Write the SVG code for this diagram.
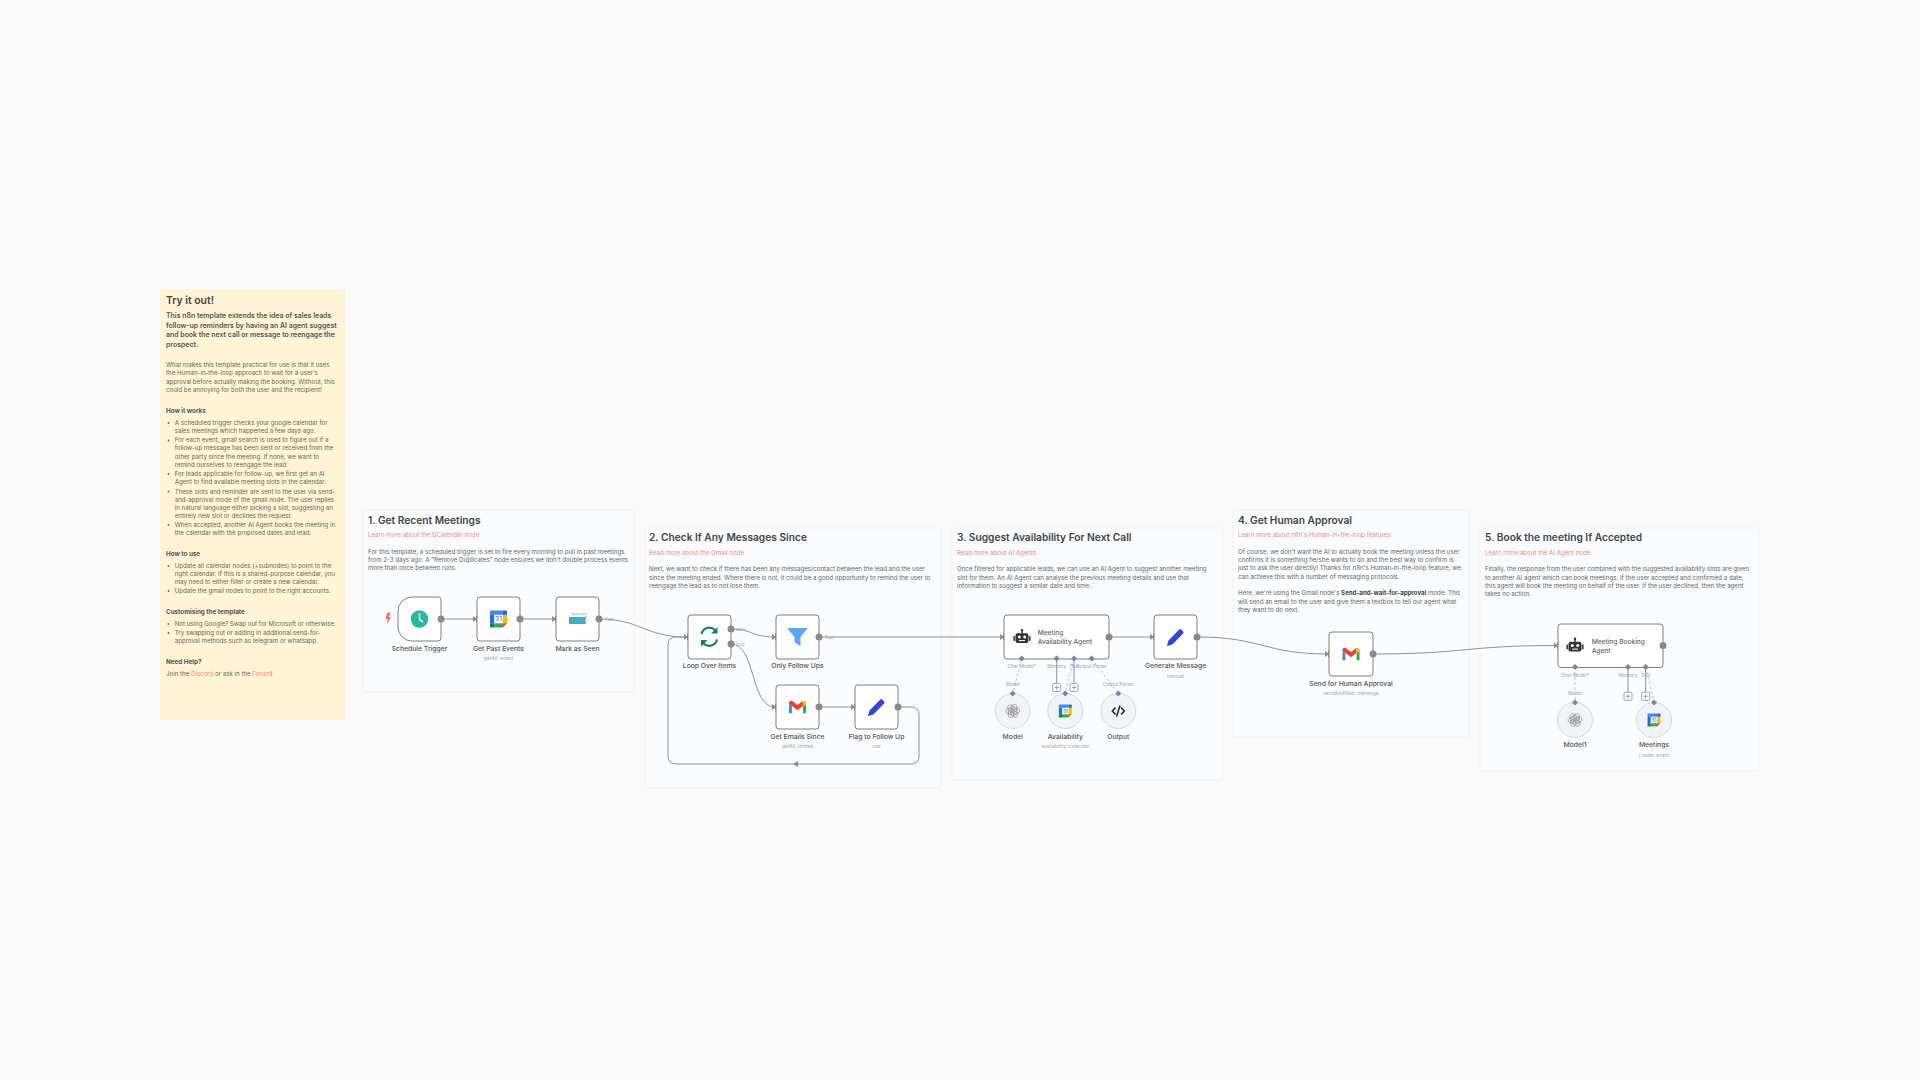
<svg xmlns="http://www.w3.org/2000/svg" width="1920" height="1080" viewBox="0 0 1920 1080">
<style>
text{font-family:Inter,"Noto Sans","Liberation Sans",sans-serif}
.note{fill:#fbfcfe;stroke:#f2f3f5;stroke-width:1}
.sticky{fill:#fff4d5}
.h{font-size:10.2px;font-weight:600;fill:#444}
.h0{font-size:10.4px;font-weight:600;fill:#444}
.l{font-size:6.15px;fill:#f08a7c}
.b{font-size:6.15px;fill:#666}
.sb{font-size:6.95px;font-weight:600;fill:#555}
.st{font-size:6.15px;fill:#6b6655}
.sh{font-size:6.3px;font-weight:700;fill:#555}
.sl{font-size:6.15px;fill:#f08a7c}
.box{fill:#fff;stroke:#808080;stroke-width:1}
.nl{font-size:6.8px;font-weight:500;fill:#555;text-anchor:middle}
.ns{font-size:5px;fill:#aaa;text-anchor:middle}
.at{font-size:6.6px;font-weight:500;fill:#666}
.c{fill:none;stroke:#929292;stroke-width:1}
.dash{fill:none;stroke:#bcbccc;stroke-width:1;stroke-dasharray:2.5 2.5}
.sol{fill:none;stroke:#8b8bb5;stroke-width:1}
.out{fill:#8a8a8a}
.in{fill:#8a8a8a}
.arr{fill:#8a8a8a}
.dm{fill:#7f7fb8}
.pl{fill:#fff;stroke:#8b8bb5;stroke-width:.8}
.plp{fill:none;stroke:#8b8bb5;stroke-width:.8}
.pt{font-size:4.8px;fill:#9d9dc8;text-anchor:middle}
.el{font-size:4.2px;fill:#aaa}
.sub{fill:#f2f3f6;stroke:#d8d8de;stroke-width:1}
.oa{fill:none;stroke:#909090;stroke-width:.7}
</style>
<defs>
<g id="robot"><rect x="-6.5" y="-4.2" width="13" height="9.6" rx="2.2" fill="#333"/><rect x="-8.6" y="-1.6" width="1.5" height="5" rx=".7" fill="#333"/><rect x="7.1" y="-1.6" width="1.5" height="5" rx=".7" fill="#333"/><rect x="-.7" y="-7" width="1.4" height="3" fill="#333"/><circle cy="-7.2" r="1.2" fill="#333"/><circle cx="-2.7" cy="-.6" r="1.5" fill="#fff"/><circle cx="2.7" cy="-.6" r="1.5" fill="#fff"/><rect x="-3" y="2.6" width="6" height="1" fill="#fff"/></g>
<g id="pencil"><path d="M-8.6 9 L-7 3.4 L3.8 -7.4 a1.4 1.4 0 0 1 2 0 L7.6 -5.6 a1.4 1.4 0 0 1 0 2 L-3.2 7.4 Z" fill="#3344d8"/></g>
<g id="gmail"><path d="M-8.5 6.3 V-3 L-5.6 -1 V6.3 Z" fill="#4285f4"/><path d="M8.5 6.3 V-3 L5.6 -1 V6.3 Z" fill="#34a853"/><path d="M-8.5 -3 V-4.2 C-8.5 -6 -6.6 -6.9 -5.2 -5.9 L0 -1.9 L5.2 -5.9 L5.6 -1 L0 3.2 L-5.6 -1 Z" fill="#ea4335"/><path d="M5.2 -5.9 C6.6 -6.9 8.5 -6 8.5 -4.2 V-3 L5.6 -1 Z" fill="#fbbc04"/></g>
<g id="gcal"><rect x="-8.5" y="-8.5" width="17" height="17" rx="1" fill="#fff"/><path d="M-8.5 -4.3 V-7.5 a1 1 0 0 1 1-1 H4.3 V-4.3 Z" fill="#4285f4"/><rect x="-8.5" y="-4.3" width="4.2" height="8.6" fill="#1a73e8"/><rect x="4.3" y="-4.3" width="4.2" height="8.6" fill="#fbbc04"/><rect x="-4.3" y="4.3" width="8.6" height="4.2" fill="#34a853"/><path d="M-8.5 4.3 H-4.3 V8.5 H-7.5 a1 1 0 0 1-1-1 Z" fill="#188038"/><path d="M4.3 -8.5 H7.5 a1 1 0 0 1 1 1 V-4.3 H4.3 Z" fill="#1967d2"/><path d="M4.3 4.3 H8.5 L4.3 8.5 Z" fill="#ea4335"/><text x="0" y="2.3" font-size="6" font-weight="600" fill="#4285f4" text-anchor="middle">31</text></g>
<g id="openai"><rect x="-1" y="-6.5" width="5.4" height="9.5" rx="2.6" class="oa"/><rect x="-1" y="-6.5" width="5.4" height="9.5" rx="2.6" class="oa" transform="rotate(60)"/><rect x="-1" y="-6.5" width="5.4" height="9.5" rx="2.6" class="oa" transform="rotate(120)"/><rect x="-1" y="-6.5" width="5.4" height="9.5" rx="2.6" class="oa" transform="rotate(180)"/><rect x="-1" y="-6.5" width="5.4" height="9.5" rx="2.6" class="oa" transform="rotate(240)"/><rect x="-1" y="-6.5" width="5.4" height="9.5" rx="2.6" class="oa" transform="rotate(300)"/></g>
<path id="dmnd" d="M0 -3 L3 0 L0 3 L-3 0 Z"/>
<g id="plus"><rect x="-4" y="-4" width="8" height="8" rx="1.2" class="pl"/><path d="M-2.2 0 H2.2 M0 -2.2 V2.2" class="plp"/></g>
<g id="inp"><path d="M-4 -3 L0 0 L-4 3 Z" class="arr"/><rect x="-1" y="-3.4" width="2.6" height="6.8" rx=".6" class="in"/></g>
</defs>
<rect width="1920" height="1080" fill="#fbfbfb"/>

<g id="sticky-main">
<rect x="160" y="289" width="185" height="431" class="sticky"/>
<text x="166" y="304" class="h0">Try it out!</text>
<text x="166" y="318" class="sb">This n8n template extends the idea of sales leads</text>
<text x="166" y="327.6" class="sb">follow-up reminders by having an AI agent suggest</text>
<text x="166" y="337.2" class="sb">and book the next call or message to reengage the</text>
<text x="166" y="347" class="sb">prospect.</text>
<text x="166" y="367" class="st">What makes this template practical for use is that it uses</text>
<text x="166" y="375.3" class="st">the Human-in-the-loop approach to wait for a user's</text>
<text x="166" y="383.6" class="st">approval before actually making the booking. Without, this</text>
<text x="166" y="392" class="st">could be annoying for both the user and the recipient!</text>
<text x="166" y="413" class="sh">How it works</text>
<circle cx="168.5" cy="423" r=".9" fill="#6b6655"/>
<text x="174.7" y="425" class="st">A scheduled trigger checks your google calendar for</text>
<text x="174.7" y="433" class="st">sales meetings which happened a few days ago.</text>
<circle cx="168.5" cy="440.5" r=".9" fill="#6b6655"/>
<text x="174.7" y="442.2" class="st">For each event, gmail search is used to figure out if a</text>
<text x="174.7" y="450.2" class="st">follow-up message has been sent or received from the</text>
<text x="174.7" y="458.9" class="st">other party since the meeting. If none, we want to</text>
<text x="174.7" y="466.9" class="st">remind ourselves to reengage the lead.</text>
<circle cx="168.5" cy="474" r=".9" fill="#6b6655"/>
<text x="174.7" y="475.9" class="st">For leads applicable for follow-up, we first get an AI</text>
<text x="174.7" y="483.5" class="st">Agent to find available meeting slots in the calendar.</text>
<circle cx="168.5" cy="491.5" r=".9" fill="#6b6655"/>
<text x="174.7" y="493.5" class="st">These slots and reminder are sent to the user via send-</text>
<text x="174.7" y="501.9" class="st">and-approval mode of the gmail node. The user replies</text>
<text x="174.7" y="509.9" class="st">in natural language either picking a slot, suggesting an</text>
<text x="174.7" y="517.9" class="st">entirely new slot or declines the request.</text>
<circle cx="168.5" cy="525" r=".9" fill="#6b6655"/>
<text x="174.7" y="526.9" class="st">When accepted, another AI Agent books the meeting in</text>
<text x="174.7" y="534.9" class="st">the calendar with the proposed dates and lead.</text>
<text x="166" y="555.5" class="sh">How to use</text>
<circle cx="168.5" cy="566" r=".9" fill="#6b6655"/>
<text x="174.7" y="567.9" class="st">Update all calendar nodes (+subnodes) to point to the</text>
<text x="174.7" y="575.9" class="st">right calendar. If this is a shared-purpose calendar, you</text>
<text x="174.7" y="583.9" class="st">may need to either filter or create a new calendar.</text>
<circle cx="168.5" cy="591" r=".9" fill="#6b6655"/>
<text x="174.7" y="592.9" class="st">Update the gmail nodes to point to the right accounts.</text>
<text x="166" y="613.9" class="sh">Customising the template</text>
<circle cx="168.5" cy="624" r=".9" fill="#6b6655"/>
<text x="174.7" y="625.9" class="st">Not using Google? Swap out for Microsoft or otherwise.</text>
<circle cx="168.5" cy="633" r=".9" fill="#6b6655"/>
<text x="174.7" y="634.9" class="st">Try swapping out or adding in additional send-for-</text>
<text x="174.7" y="642.9" class="st">approval methods such as telegram or whatsapp.</text>
<text x="166" y="663.9" class="sh">Need Help?</text>
<text x="166" y="675.9" class="st">Join the <tspan class="sl">Discord</tspan> or ask in the <tspan class="sl">Forum</tspan>!</text>
</g>

<g id="note-1">
<rect x="363" y="510" width="271" height="182" rx="2" class="note"/>
<text x="368" y="524" class="h">1. Get Recent Meetings</text>
<text x="368" y="536.5" class="l">Learn more about the GCalendar node</text>
<text x="368" y="554" class="b">For this template, a scheduled trigger is set to fire every morning to pull in past meetings</text>
<text x="368" y="562" class="b">from 2-3 days ago. A "Remove Duplicates" node ensures we don't double process events</text>
<text x="368" y="570" class="b">more than once between runs.</text>
</g>
<g id="note-2">
<rect x="645" y="528" width="296" height="260" rx="2" class="note"/>
<text x="649" y="541" class="h">2. Check If Any Messages Since</text>
<text x="649" y="555" class="l">Read more about the Gmail node</text>
<text x="649" y="570.5" class="b">Next, we want to check if there has been any messages/contact between the lead and the user</text>
<text x="649" y="579.5" class="b">since the meeting ended. Where there is not, it could be a good opportunity to remind the user to</text>
<text x="649" y="588.2" class="b">reengage the lead as to not lose them.</text>
</g>
<g id="note-3">
<rect x="952" y="528" width="271" height="252" rx="2" class="note"/>
<text x="957" y="541" class="h">3. Suggest Availability For Next Call</text>
<text x="957" y="555" class="l">Read more about AI Agents</text>
<text x="957" y="570.5" class="b">Once filtered for applicable leads, we can use an AI Agent to suggest another meeting</text>
<text x="957" y="579.5" class="b">slot for them. An AI Agent can analyse the previous meeting details and use that</text>
<text x="957" y="588.2" class="b">information to suggest a similar date and time.</text>
</g>
<g id="note-4">
<rect x="1233" y="510" width="236" height="227" rx="2" class="note"/>
<text x="1238" y="524" class="h">4. Get Human Approval</text>
<text x="1238" y="536.5" class="l">Learn more about n8n's Human-in-the-loop features</text>
<text x="1238" y="554" class="b">Of course, we don't want the AI to actually book the meeting unless the user</text>
<text x="1238" y="562" class="b">confirms it is something he/she wants to do and the best way to confirm is</text>
<text x="1238" y="570" class="b">just to ask the user directly! Thanks for n8n's Human-in-the-loop feature, we</text>
<text x="1238" y="579" class="b">can achieve this with a number of messaging protocols.</text>
<text x="1238" y="595" class="b">Here, we're using the Gmail node's <tspan font-weight="700" fill="#444">Send-and-wait-for-approval</tspan> mode. This</text>
<text x="1238" y="603.5" class="b">will send an email to the user and give them a textbox to tell our agent what</text>
<text x="1238" y="612" class="b">they want to do next.</text>
</g>
<g id="note-5">
<rect x="1480" y="528" width="279" height="243" rx="2" class="note"/>
<text x="1485" y="541" class="h">5. Book the meeting If Accepted</text>
<text x="1485" y="555" class="l">Learn more about the AI Agent node</text>
<text x="1485" y="571" class="b">Finally, the response from the user combined with the suggested availability slots are given</text>
<text x="1485" y="579.5" class="b">to another AI agent which can book meetings. If the user accepted and confirmed a date,</text>
<text x="1485" y="588" class="b">this agent will book the meeting on behalf of the user. If the user declined, then the agent</text>
<text x="1485" y="596" class="b">takes no action.</text>
</g>

<g id="connectors">
<path class="c" d="M441 619 H476"/>
<path class="c" d="M520 619 H555"/>
<path class="c" d="M599 619 C640 619 645 637 687 637"/>
<path class="c" d="M731 629 C752 629 752 637 775 637"/>
<path class="c" d="M731 644 C756 644 750 707 775 707"/>
<path class="c" d="M819 637 H1003"/>
<path class="c" d="M819 707 H854"/>
<path class="c" d="M898 707 H911 Q919 707 919 715 V756 Q919 764 911 764 H676 Q668 764 668 756 V645 Q668 637 676 637 H687"/>
<path class="c" d="M1109 637 H1153"/>
<path class="c" d="M1197 637 C1262 637 1264 654 1328 654"/>
<path class="c" d="M1373 654 C1465 654 1465 645.5 1557 645.5"/>
<path class="arr" d="M798 761 L793 764 L798 767 Z"/>
<use href="#inp" x="477" y="619"/>
<use href="#inp" x="556" y="619"/>
<use href="#inp" x="688" y="637"/>
<use href="#inp" x="776" y="637"/>
<use href="#inp" x="776" y="707"/>
<use href="#inp" x="855" y="707"/>
<use href="#inp" x="1004" y="637"/>
<use href="#inp" x="1154" y="637"/>
<use href="#inp" x="1329" y="654"/>
<use href="#inp" x="1558" y="645.5"/>
<path class="dash" d="M1021.7 659 L1012.7 693"/>
<path class="dash" d="M1074 659 L1065 693"/>
<path class="dash" d="M1091.7 659 L1118 693"/>
<path class="sol" d="M1056.7 659 V683"/>
<path class="sol" d="M1074 659 V683"/>
<path class="dash" d="M1575 667 V702"/>
<path class="dash" d="M1645.7 667 L1654 702"/>
<path class="sol" d="M1628 667 V692"/>
<path class="sol" d="M1645.7 667 V692"/>
<text x="605" y="620.5" class="el">Kept</text>
<text x="736" y="630.5" class="el">done</text>
<text x="736" y="645.5" class="el">loop</text>
<text x="825" y="638.5" class="el">Kept</text>
</g>

<g id="schedule-trigger">
<path d="M412 597 H438 a3 3 0 0 1 3 3 V638 a3 3 0 0 1-3 3 H412 a14 14 0 0 1-14-14 V611 a14 14 0 0 1 14-14 Z" class="box"/>
<circle cx="419.5" cy="619" r="8.7" fill="#2ab795"/>
<path d="M419.5 613.5 V619.5 L423 622" fill="none" stroke="#fff" stroke-width="1.6"/>
<path d="M387.5 612.5 L385.5 619 H388 L386.5 625 L391 617.5 H388.5 L390.5 612.5 Z" fill="#ec6b5c"/>
<circle cx="441" cy="619" r="3.5" class="out"/>
<text x="419.5" y="651" class="nl">Schedule Trigger</text>
</g>
<g id="get-past-events">
<rect x="477" y="597" width="43" height="44" rx="3" class="box"/>
<use href="#gcal" x="498.5" y="619"/>
<circle cx="520" cy="619" r="3.5" class="out"/>
<text x="498.5" y="651" class="nl">Get Past Events</text>
<text x="498.5" y="660" class="ns">getAll: event</text>
</g>
<g id="mark-as-seen">
<rect x="556" y="597" width="43" height="44" rx="3" class="box"/>
<rect x="569" y="617" width="16.7" height="7" fill="#4aa9c2"/>
<path d="M572 614 H586 V617" fill="none" stroke="#4aa9c2" stroke-width="1" stroke-dasharray="2 1.2"/>
<circle cx="599" cy="619" r="3.5" class="out"/>
<text x="577.5" y="651" class="nl">Mark as Seen</text>
</g>
<g id="loop-over-items">
<rect x="688" y="615" width="43" height="44" rx="3" class="box"/>
<path d="M701.5 634 A8 8 0 0 1 715 630 M717 639.5 A8 8 0 0 1 703.5 643.5" fill="none" stroke="#1a7f5a" stroke-width="2.2"/>
<path d="M717.5 627 V633.5 H711 Z M701 646.5 V640 H707.5 Z" fill="#1a7f5a"/>
<circle cx="731" cy="629" r="3.5" class="out"/>
<circle cx="731" cy="644" r="3.5" class="out"/>
<text x="709.5" y="668" class="nl">Loop Over Items</text>
</g>
<g id="only-follow-ups">
<rect x="776" y="615" width="43" height="44" rx="3" class="box"/>
<path d="M788.5 628 H806.5 Q807.5 628 807 629 L800.5 637 V645 Q800.5 646 799.5 645.5 L795 642.5 Q794.5 642 794.5 641.5 V637 L788 629 Q787.5 628 788.5 628 Z" fill="#5ba6ee"/>
<circle cx="819" cy="637" r="3.5" class="out"/>
<text x="797.5" y="668" class="nl">Only Follow Ups</text>
</g>
<g id="get-emails-since">
<rect x="776" y="685" width="43" height="44" rx="3" class="box"/>
<use href="#gmail" x="797.5" y="707"/>
<circle cx="819" cy="707" r="3.5" class="out"/>
<text x="797.5" y="739" class="nl">Get Emails Since</text>
<text x="797.5" y="748" class="ns">getAll: thread</text>
</g>
<g id="flag-to-follow-up">
<rect x="855" y="685" width="43" height="44" rx="3" class="box"/>
<use href="#pencil" x="876.5" y="707"/>
<circle cx="898" cy="707" r="3.5" class="out"/>
<text x="876.5" y="739" class="nl">Flag to Follow Up</text>
<text x="876.5" y="748" class="ns">row</text>
</g>
<g id="meeting-availability-agent">
<rect x="1004" y="615" width="105" height="44" rx="3" class="box"/>
<use href="#robot" x="1022" y="637.5"/>
<text x="1037.7" y="635" class="at">Meeting</text>
<text x="1037.7" y="644" class="at">Availability Agent</text>
<circle cx="1109" cy="637" r="3.5" class="out"/>
<use href="#dmnd" x="1021.7" y="658.5" class="dm"/>
<use href="#dmnd" x="1056.7" y="658.5" class="dm"/>
<use href="#dmnd" x="1074" y="658.5" class="dm"/>
<use href="#dmnd" x="1091.7" y="658.5" class="dm"/>
<text x="1021.7" y="667.8" class="pt">Chat Model*</text>
<text x="1056.7" y="667.8" class="pt">Memory</text>
<text x="1074" y="667.8" class="pt">Tool</text>
<text x="1091.7" y="667.8" class="pt">Output Parser</text>
<use href="#plus" x="1056.7" y="687.5"/>
<use href="#plus" x="1074" y="687.5"/>
</g>
<g id="generate-message">
<rect x="1154" y="615" width="43" height="44" rx="3" class="box"/>
<use href="#pencil" x="1175.5" y="637"/>
<circle cx="1197" cy="637" r="3.5" class="out"/>
<text x="1175.5" y="668" class="nl">Generate Message</text>
<text x="1175.5" y="677.8" class="ns">manual</text>
</g>
<g id="model">
<circle cx="1012.7" cy="711" r="17.5" class="sub"/>
<use href="#openai" x="1012.7" y="711"/>
<use href="#dmnd" x="1012.7" y="693.5" class="dm"/>
<text x="1012.7" y="685.8" class="pt">Model</text>
<text x="1012.7" y="739" class="nl">Model</text>
</g>
<g id="availability">
<circle cx="1065.3" cy="711" r="17.5" class="sub"/>
<use href="#gcal" transform="translate(1065.3 711) scale(.76)"/>
<use href="#dmnd" x="1065.3" y="693.5" class="dm"/>
<text x="1065.3" y="739" class="nl">Availability</text>
<text x="1065.3" y="748" class="ns">availability: calendar</text>
</g>
<g id="output">
<circle cx="1118.3" cy="711" r="17.5" class="sub"/>
<path d="M1115.5 707.5 L1112.3 711 L1115.5 714.5 M1121.1 707.5 L1124.3 711 L1121.1 714.5 M1120 705.5 L1116.6 716.5" fill="none" stroke="#222" stroke-width="1.5"/>
<use href="#dmnd" x="1118.3" y="693.5" class="dm"/>
<text x="1118.3" y="685.8" class="pt">Output Parser</text>
<text x="1118.3" y="739" class="nl">Output</text>
</g>
<g id="send-for-human-approval">
<rect x="1329" y="632" width="44" height="44" rx="3" class="box"/>
<use href="#gmail" x="1351" y="654"/>
<circle cx="1373" cy="654" r="3.5" class="out"/>
<text x="1351" y="686" class="nl">Send for Human Approval</text>
<text x="1351" y="695" class="ns">sendAndWait: message</text>
</g>
<g id="meeting-booking-agent">
<rect x="1558" y="624" width="105" height="43.5" rx="3" class="box"/>
<use href="#robot" x="1575" y="646"/>
<text x="1591.7" y="644" class="at">Meeting Booking</text>
<text x="1591.7" y="653" class="at">Agent</text>
<circle cx="1663" cy="645.5" r="3.5" class="out"/>
<use href="#dmnd" x="1575" y="667" class="dm"/>
<use href="#dmnd" x="1628" y="667" class="dm"/>
<use href="#dmnd" x="1645.7" y="667" class="dm"/>
<text x="1575" y="676.8" class="pt">Chat Model*</text>
<text x="1628" y="676.8" class="pt">Memory</text>
<text x="1645.7" y="676.8" class="pt">Tool</text>
<use href="#plus" x="1628" y="696.3"/>
<use href="#plus" x="1645.7" y="696.3"/>
</g>
<g id="model1">
<circle cx="1575" cy="720" r="17.5" class="sub"/>
<use href="#openai" x="1575" y="720"/>
<use href="#dmnd" x="1575" y="702.5" class="dm"/>
<text x="1575" y="694.8" class="pt">Model</text>
<text x="1575" y="746.5" class="nl">Model1</text>
</g>
<g id="meetings">
<circle cx="1654" cy="720" r="17.5" class="sub"/>
<use href="#gcal" transform="translate(1654 720) scale(.76)"/>
<use href="#dmnd" x="1654" y="702.5" class="dm"/>
<text x="1654" y="746.5" class="nl">Meetings</text>
<text x="1654" y="756.5" class="ns">create: event</text>
</g>
</svg>
